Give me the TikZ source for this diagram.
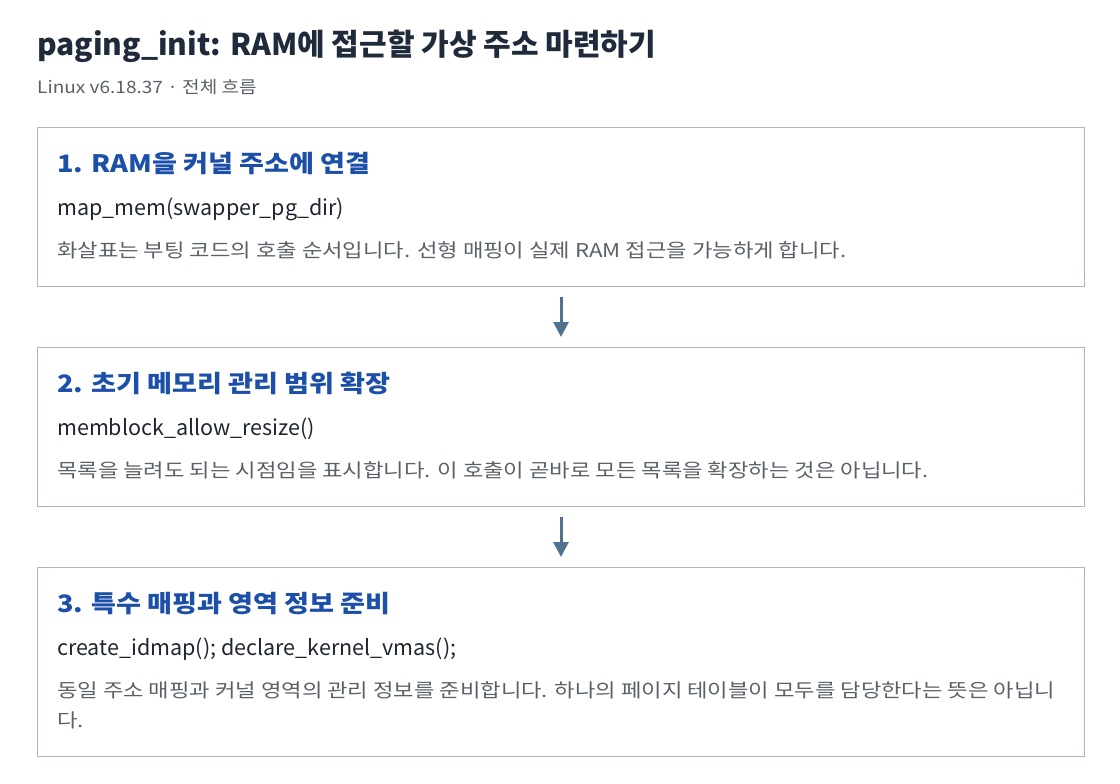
\documentclass[tikz,border=0pt]{standalone}
\usepackage{fontspec}
\setmainfont{Noto Sans CJK KR}
\newfontfamily\headfont[FakeStretch=1.13]{Noto Sans CJK KR}
\newfontfamily\descfont[FakeStretch=1.17]{Noto Sans CJK KR}
\newfontfamily\subfont[FakeStretch=1.12]{Noto Sans CJK KR}
\usetikzlibrary{arrows.meta,positioning}

\definecolor{titlecol}{HTML}{1F2A3A}
\definecolor{headcol}{HTML}{1C4FA8}
\definecolor{codecol}{HTML}{1F2530}
\definecolor{desccol}{HTML}{5A6068}
\definecolor{boxline}{HTML}{A9B6C6}
\definecolor{arrowcol}{HTML}{53708F}

\tikzset{
	stepbox/.style={draw=boxline, line width=1pt, minimum width=1047pt, anchor=north west, inner sep=0pt},
	headtext/.style={anchor=base west, inner sep=0pt, text=headcol, font=\headfont\fontsize{24}{28}\selectfont\bfseries},
	codetext/.style={anchor=base west, inner sep=0pt, text=codecol, font=\fontsize{21.5}{25}\selectfont},
	desctext/.style={anchor=base west, inner sep=0pt, text=desccol, align=left, font=\descfont\fontsize{19}{30}\selectfont},
	flow/.style={arrowcol, line width=3pt, -{Triangle[length=15pt,width=15pt]}, shorten <=10pt, shorten >=10pt}
}

\begin{document}
\begin{tikzpicture}[x=1pt,y=-1pt]
	\useasboundingbox (0,0) rectangle (1120,784);
	
	\node[anchor=base west, inner sep=0pt, text=titlecol, font=\fontsize{30}{34}\selectfont\bfseries] (title) at (37,56) {paging\_init: RAM에 접근할 가상 주소 마련하기};
	\node[anchor=base west, inner sep=0pt, text=desccol, font=\subfont\fontsize{17}{20}\selectfont] (subtitle) at (37,94) {Linux v6.18.37 · 전체 흐름};
	
	% step 1
	\node[stepbox, minimum height=159pt] (step1) at (37,127) {};
	\node[headtext] (head1) at (57,172) {1. RAM을 커널 주소에 연결};
	\node[codetext] (code1) at (57,215) {map\_mem(swapper\_pg\_dir)};
	\node[desctext] (desc1) at (57,257) {화살표는 부팅 코드의 호출 순서입니다. 선형 매핑이 실제 RAM 접근을 가능하게 합니다.};
	
	% step 2
	\node[stepbox, minimum height=159pt] (step2) at (37,347) {};
	\node[headtext] (head2) at (57,392) {2. 초기 메모리 관리 범위 확장};
	\node[codetext] (code2) at (57,435) {memblock\_allow\_resize()};
	\node[desctext] (desc2) at (57,477) {목록을 늘려도 되는 시점임을 표시합니다. 이 호출이 곧바로 모든 목록을 확장하는 것은 아닙니다.};
	
	% step 3 (base anchor sits on the last line)
	\node[stepbox, minimum height=189pt] (step3) at (37,567) {};
	\node[headtext] (head3) at (57,612) {3. 특수 매핑과 영역 정보 준비};
	\node[codetext] (code3) at (57,655) {create\_idmap(); declare\_kernel\_vmas();};
	\node[desctext] (desc3) at (57,727) {동일 주소 매핑과 커널 영역의 관리 정보를 준비합니다. 하나의 페이지 테이블이 모두를 담당한다는 뜻은 아닙니\\다.};
	
	\draw[flow] (step1.south) -- (step2.north);
	\draw[flow] (step2.south) -- (step3.north);
\end{tikzpicture}
\end{document}
